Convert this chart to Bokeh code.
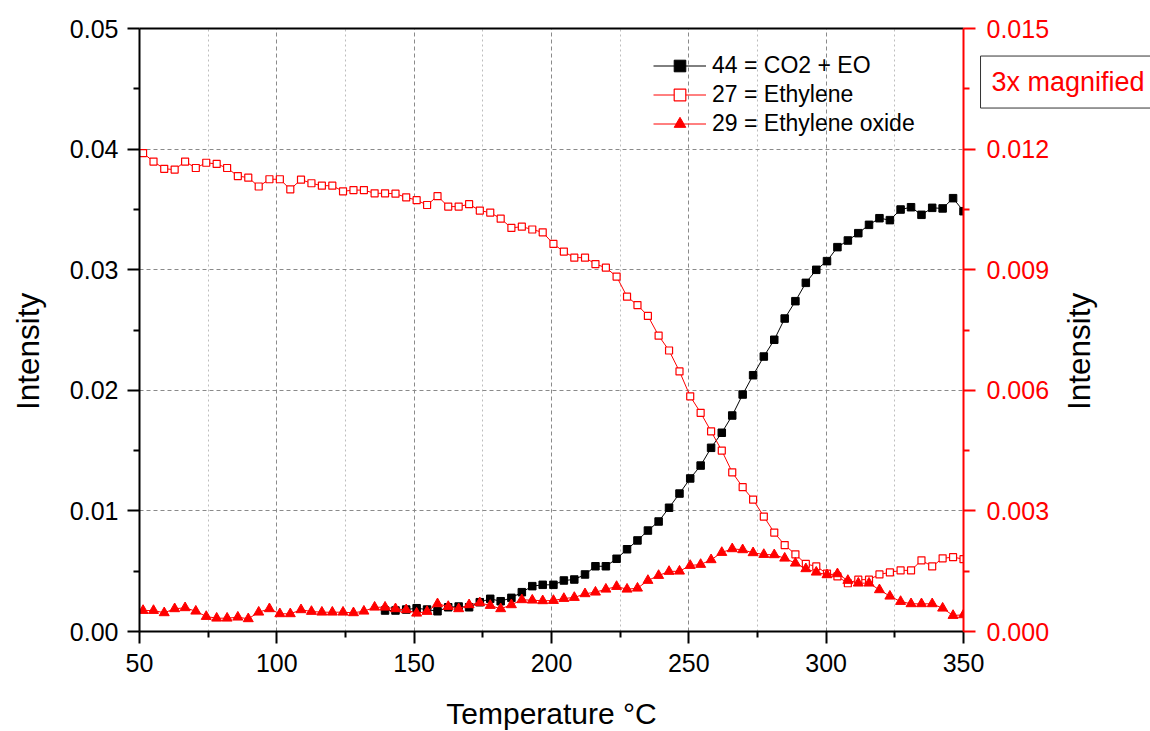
import math
from bokeh.plotting import figure
from bokeh.models import (Range1d, LinearAxis, FixedTicker, PrintfTickFormatter,
                          Legend, LegendItem, Label)
from bokeh.embed import file_html
from bokeh.resources import INLINE

# ---------------- data ----------------
temperature = [51.3, 55.1, 59.0, 62.8, 66.6, 70.5, 74.3, 78.1, 81.9, 85.8,
               89.6, 93.4, 97.3, 101.1, 104.9, 108.8, 112.6, 116.4, 120.2, 124.1,
               127.9, 131.7, 135.6, 139.4, 143.2, 147.1, 150.9, 154.7, 158.5, 162.4,
               166.2, 170.0, 173.9, 177.7, 181.5, 185.4, 189.2, 193.0, 196.8, 200.7,
               204.5, 208.3, 212.2, 216.0, 219.8, 223.7, 227.5, 231.3, 235.1, 239.0,
               242.8, 246.6, 250.5, 254.3, 258.1, 262.0, 265.8, 269.6, 273.4, 277.3,
               281.1, 284.9, 288.8, 292.6, 296.4, 300.3, 304.1, 307.9, 311.7, 315.6,
               319.4, 323.2, 327.1, 330.9, 334.7, 338.6, 342.4, 346.2, 350.0]

co2_temperature = [139.4, 143.2, 147.1, 150.9, 154.7, 158.5, 162.4, 166.2, 170.0, 173.9,
                   177.7, 181.5, 185.4, 189.2, 193.0, 196.8, 200.7, 204.5, 208.3, 212.2,
                   216.0, 219.8, 223.7, 227.5, 231.3, 235.1, 239.0, 242.8, 246.6, 250.5,
                   254.3, 258.1, 262.0, 265.8, 269.6, 273.4, 277.3, 281.1, 284.9, 288.8,
                   292.6, 296.4, 300.3, 304.1, 307.9, 311.7, 315.6, 319.4, 323.2, 327.1,
                   330.9, 334.7, 338.6, 342.4, 346.2, 350.0]

co2_eo = [0.00174, 0.00174, 0.00182, 0.00193, 0.00182, 0.00168, 0.00201, 0.00207, 0.00201, 0.00243,
          0.00271, 0.00251, 0.00279, 0.00326, 0.00376, 0.00387, 0.00387, 0.00423, 0.00431, 0.00473,
          0.00541, 0.00541, 0.00603, 0.00682, 0.00755, 0.00837, 0.00912, 0.01026, 0.01144, 0.01269,
          0.01376, 0.01523, 0.01648, 0.01791, 0.01965, 0.02125, 0.02280, 0.02419, 0.02595, 0.02739,
          0.02891, 0.02999, 0.03071, 0.03187, 0.03242, 0.03303, 0.03372, 0.03427, 0.03411, 0.03499,
          0.03518, 0.03455, 0.03513, 0.03508, 0.03593, 0.03485]

ethylene = [0.01190, 0.01169, 0.01151, 0.01149, 0.01169, 0.01153, 0.01166, 0.01163, 0.01153, 0.01133,
            0.01129, 0.01107, 0.01125, 0.01125, 0.01100, 0.01124, 0.01115, 0.01109, 0.01109, 0.01095,
            0.01098, 0.01098, 0.01090, 0.01090, 0.01089, 0.01080, 0.01073, 0.01061, 0.01083, 0.01057,
            0.01057, 0.01063, 0.01047, 0.01042, 0.01027, 0.01004, 0.01007, 0.01000, 0.00993, 0.00964,
            0.00945, 0.00930, 0.00930, 0.00914, 0.00905, 0.00883, 0.00833, 0.00812, 0.00785, 0.00736,
            0.00699, 0.00647, 0.00585, 0.00544, 0.00498, 0.00450, 0.00396, 0.00359, 0.00328, 0.00286,
            0.00246, 0.00215, 0.00192, 0.00168, 0.00162, 0.00144, 0.00137, 0.00120, 0.00129, 0.00129,
            0.00142, 0.00147, 0.00152, 0.00152, 0.00177, 0.00162, 0.00182, 0.00185, 0.00180]

ethylene_oxide = [0.000522, 0.000522, 0.000465, 0.000565, 0.000590, 0.000505, 0.000373, 0.000331, 0.000331, 0.000356,
                  0.000316, 0.000480, 0.000565, 0.000440, 0.000440, 0.000540, 0.000498, 0.000480, 0.000480, 0.000480,
                  0.000465, 0.000505, 0.000604, 0.000604, 0.000565, 0.000540, 0.000455, 0.000498, 0.000689, 0.000622,
                  0.000565, 0.000664, 0.000714, 0.000647, 0.000565, 0.000664, 0.000789, 0.000779, 0.000764, 0.000771,
                  0.000821, 0.000846, 0.000938, 0.000978, 0.001052, 0.001119, 0.001052, 0.001077, 0.001269, 0.001393,
                  0.001493, 0.001500, 0.001642, 0.001667, 0.001784, 0.001965, 0.002057, 0.002032, 0.001958, 0.001915,
                  0.001908, 0.001823, 0.001699, 0.001560, 0.001475, 0.001410, 0.001435, 0.001269, 0.001202, 0.001202,
                  0.001037, 0.000878, 0.000746, 0.000689, 0.000689, 0.000689, 0.000580, 0.000398, 0.000415]

series_labels = ["44 = CO2 + EO", "27 = Ethylene", "29 = Ethylene oxide"]
x_ticks = [50, 100, 150, 200, 250, 300, 350]
x_minor_ticks = [75, 125, 175, 225, 275, 325]
left_ticks = [0.0, 0.01, 0.02, 0.03, 0.04, 0.05]
left_minor_ticks = [0.005, 0.015, 0.025, 0.035, 0.045]
right_ticks = [0.0, 0.003, 0.006, 0.009, 0.012, 0.015]
right_minor_ticks = [0.0015, 0.0045, 0.0075, 0.0105, 0.0135]
x_title = "Temperature °C"
y_title = "Intensity"
note_text = "3x magnified"

FONT = "Liberation Sans"
RED = "#ff0000"

p = figure(frame_width=824, frame_height=603, output_backend="svg", toolbar_location=None,
           x_range=Range1d(50, 350), y_range=Range1d(0, 0.05),
           min_border_left=139, min_border_right=0, min_border_top=28, min_border_bottom=60,
           x_axis_label=x_title)
p.extra_y_ranges = {"right": Range1d(0, 0.015)}
p.outline_line_color = None
p.background_fill_color = "white"
p.border_fill_color = "white"

# the boxed note sticks out past the window's right edge, as in the reference: hide page scrollbars
try:
    from bokeh.models import GlobalInlineStyleSheet
    p.stylesheets = [GlobalInlineStyleSheet(css="html, body { overflow: hidden !important; margin: 0; }")]
except Exception:
    pass

# bottom axis
xa = p.xaxis[0]
xa.ticker = FixedTicker(ticks=x_ticks, minor_ticks=x_minor_ticks)
xa.formatter = PrintfTickFormatter(format="%d")
# left axis
ya = p.yaxis[0]
ya.ticker = FixedTicker(ticks=left_ticks, minor_ticks=left_minor_ticks)
ya.formatter = PrintfTickFormatter(format="%.2f")
# right axis
ra = LinearAxis(y_range_name="right",
                ticker=FixedTicker(ticks=right_ticks, minor_ticks=right_minor_ticks),
                formatter=PrintfTickFormatter(format="%.3f"))

for ax, col in ((xa, "black"), (ya, "black"), (ra, RED)):
    ax.axis_line_color = col
    ax.axis_line_width = 2
    ax.major_tick_line_color = col
    ax.major_tick_line_width = 2
    ax.minor_tick_line_color = col
    ax.minor_tick_line_width = 2
    ax.major_tick_in = 0
    ax.minor_tick_in = 0
    ax.major_tick_out = 12
    ax.minor_tick_out = 6
    ax.major_label_text_font = FONT
    ax.major_label_text_font_size = "25px"
    ax.major_label_text_color = col
    ax.major_label_standoff = 9
xa.major_label_standoff = 10
ra.major_label_standoff = 11
xa.axis_label_text_font = FONT
xa.axis_label_text_font_style = "normal"
xa.axis_label_text_color = "black"
xa.axis_label_text_font_size = "30px"
xa.axis_label_standoff = 22
p.add_layout(ra, "right")

# top frame line
ta = LinearAxis(ticker=FixedTicker(ticks=[]))
ta.axis_line_color = "black"
ta.axis_line_width = 2
ta.major_tick_out = 0
ta.minor_tick_out = 0
ta.major_tick_in = 0
ta.minor_tick_in = 0
ta.major_label_text_font_size = "0px"
p.add_layout(ta, "above")

# grids
p.xgrid.ticker = xa.ticker
p.xgrid.grid_line_color = "#8a8a8a"
p.xgrid.grid_line_dash = "4 3"
p.xgrid.grid_line_width = 1
p.xgrid.minor_grid_line_color = "#bdbdbd"
p.xgrid.minor_grid_line_dash = "2 3"
p.xgrid.minor_grid_line_width = 1
p.ygrid.ticker = ya.ticker
p.ygrid.grid_line_color = "#8a8a8a"
p.ygrid.grid_line_dash = "4 3"
p.ygrid.grid_line_width = 1

# series
l1 = p.line(co2_temperature, co2_eo, line_color="black", line_width=1)
s1 = p.scatter(co2_temperature, co2_eo, marker="square", size=7.5,
               fill_color="black", line_color="black", line_width=1)
l2 = p.line(temperature, ethylene, y_range_name="right", line_color=RED, line_width=1)
s2 = p.scatter(temperature, ethylene, y_range_name="right", marker="square", size=7,
               fill_color="white", line_color=RED, line_width=1.2)
l3 = p.line(temperature, ethylene_oxide, y_range_name="right", line_color=RED, line_width=1)
s3 = p.scatter(temperature, ethylene_oxide, y_range_name="right", marker="triangle", size=10,
               fill_color=RED, line_color=RED, line_width=1)

legend = Legend(items=[LegendItem(label=series_labels[0], renderers=[l1, s1]),
                       LegendItem(label=series_labels[1], renderers=[l2, s2]),
                       LegendItem(label=series_labels[2], renderers=[l3, s3])],
                location=(514, 493))
legend.label_text_font = FONT
legend.label_text_font_size = "23px"
legend.label_text_color = "black"
legend.glyph_width = 53
legend.glyph_height = 29
legend.label_height = 29
legend.label_standoff = 6
legend.spacing = 0
legend.padding = 0
legend.margin = 0
legend.border_line_color = None
legend.background_fill_alpha = 0
p.add_layout(legend)

# free texts, placed in data units (in a side panel, so they are not clipped to the frame)
left_title = Label(x=9.4, y=0.02322, text=y_title, angle=math.pi / 2,
                   text_align="center", text_baseline="middle",
                   text_font=FONT, text_font_size="31.5px", text_color="black")
right_title = Label(x=391.95, y=0.02322, text=y_title, angle=math.pi / 2,
                    text_align="center", text_baseline="middle",
                    text_font=FONT, text_font_size="31.5px", text_color="black")
note = Label(x=356.2, y=0.04556, text=note_text,
             text_align="left", text_baseline="middle",
             text_font=FONT, text_font_size="27px", text_color=RED,
             padding=11, border_line_color="#333333", border_line_width=1,
             background_fill_color="white")
p.add_layout(left_title, "right")
p.add_layout(right_title, "right")
p.add_layout(note, "right")

open("out.html", "w").write(file_html(p, INLINE))
